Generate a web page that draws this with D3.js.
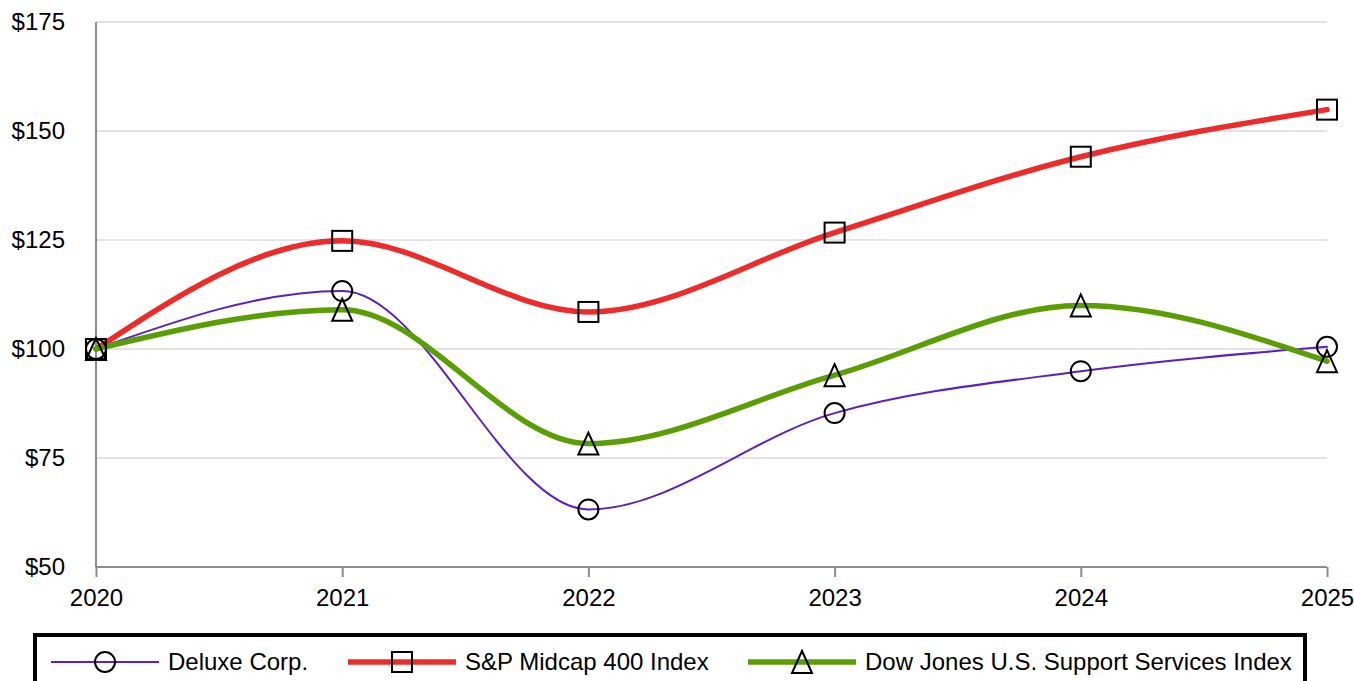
<!DOCTYPE html>
<html>
<head>
<meta charset="utf-8">
<script src="https://cdn.jsdelivr.net/npm/d3@7"></script>
<style>
html,body{margin:0;padding:0;background:#fff;}
svg{display:block;font-family:"Liberation Sans",Arial,sans-serif;}
</style>
</head>
<body>
<svg id="chart" width="1354" height="681"></svg>
<script>
const years = [2020, 2021, 2022, 2023, 2024, 2025];
const deluxe = [100, 113.3, 63.2, 85.3, 94.9, 100.5];
const spMidcap = [100, 124.8, 108.5, 126.7, 144.1, 154.9];
const dowJones = [100, 109, 78.3, 94, 110, 97.2];
const yTicks = [50, 75, 100, 125, 150, 175];
const seriesNames = ["Deluxe Corp.", "S&P Midcap 400 Index", "Dow Jones U.S. Support Services Index"];

const series = [
  {name: seriesNames[0], values: deluxe, color: "#5b1fc4", width: 2, marker: "circle"},
  {name: seriesNames[1], values: spMidcap, color: "#ee2b2b", width: 5.5, marker: "square"},
  {name: seriesNames[2], values: dowJones, color: "#5a9e04", width: 5.5, marker: "triangle"}
];

const FS = 24;
const svg = d3.select("#chart");
const plotLeft = 96, plotRight = 1327, plotTop = 22, plotBottom = 567;

const x = d3.scalePoint().domain(years).range([plotLeft, plotRight]);
const y = d3.scaleLinear().domain([50, 175]).range([plotBottom, plotTop]);

// gridlines
svg.append("g").selectAll("line").data(yTicks.filter(d => d > 50)).join("line")
  .attr("x1", plotLeft).attr("x2", plotRight)
  .attr("y1", d => y(d)).attr("y2", d => y(d))
  .attr("stroke", "#e3e3e3").attr("stroke-width", 2);

// y labels
svg.append("g").selectAll("text").data(yTicks).join("text")
  .attr("x", 65).attr("y", d => y(d)).attr("dy", "0.35em")
  .attr("text-anchor", "end").attr("font-size", FS).attr("fill", "#000")
  .text(d => "$" + d);

// x axis
const xAxis = d3.axisBottom(x).tickSize(10).tickPadding(12).tickFormat(d => d);
const gx = svg.append("g").attr("transform", `translate(0,${plotBottom})`).call(xAxis);
gx.select(".domain").attr("stroke", "#8c8c8c").attr("stroke-width", 2).attr("d", `M${plotLeft},0H${plotRight}`);
gx.selectAll(".tick line").attr("stroke", "#8c8c8c").attr("stroke-width", 2);
gx.selectAll(".tick text").attr("font-size", FS).attr("fill", "#000").attr("font-family", "Liberation Sans, Arial, sans-serif");

// y axis line
svg.append("line").attr("x1", plotLeft).attr("x2", plotLeft).attr("y1", plotTop).attr("y2", plotBottom)
  .attr("stroke", "#8c8c8c").attr("stroke-width", 2);

const line = d3.line().x((d, i) => x(years[i])).y(d => y(d)).curve(d3.curveMonotoneX);

function drawMarker(g, type, cx, cy) {
  if (type === "circle") {
    g.append("circle").attr("cx", cx).attr("cy", cy).attr("r", 10)
      .attr("fill", "none").attr("stroke", "#000").attr("stroke-width", 2);
  } else if (type === "square") {
    g.append("rect").attr("x", cx - 10).attr("y", cy - 10).attr("width", 20).attr("height", 20)
      .attr("fill", "none").attr("stroke", "#000").attr("stroke-width", 2);
  } else {
    g.append("path").attr("d", `M${cx},${cy - 11}L${cx + 10},${cy + 11}L${cx - 10},${cy + 11}Z`)
      .attr("fill", "none").attr("stroke", "#000").attr("stroke-width", 2);
  }
}

series.forEach(s => {
  svg.append("path").datum(s.values).attr("d", line)
    .attr("fill", "none").attr("stroke", s.color).attr("stroke-width", s.width)
    .attr("stroke-linecap", "round");
});
series.forEach(s => {
  const g = svg.append("g");
  s.values.forEach((v, i) => drawMarker(g, s.marker, x(years[i]), y(v)));
});

// legend
svg.append("rect").attr("x", 35).attr("y", 635).attr("width", 1270).attr("height", 80)
  .attr("fill", "none").attr("stroke", "#000").attr("stroke-width", 4);
const legendX = [51, 348, 748];
const ly = 662;
series.forEach((s, i) => {
  const lx = legendX[i];
  const g = svg.append("g");
  g.append("line").attr("x1", lx).attr("x2", lx + 108).attr("y1", ly).attr("y2", ly)
    .attr("stroke", s.color).attr("stroke-width", s.width);
  drawMarker(g, s.marker, lx + 54, ly);
  g.append("text").attr("x", lx + 117).attr("y", ly).attr("dy", "0.35em")
    .attr("font-size", FS).attr("fill", "#000").text(s.name);
});
</script>
</body>
</html>
